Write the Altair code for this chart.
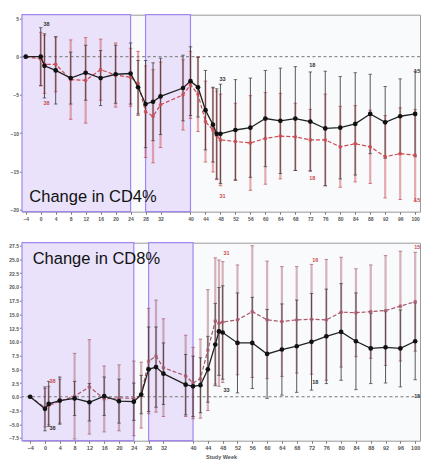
import altair as alt
import pandas as pd

# ---------------- data ----------------
weeks = [-4, 0, 1, 4, 8, 12, 16, 20, 24, 26, 28, 30, 32, 38, 40, 42, 44, 46, 47, 48,
         52, 56, 60, 64, 68, 72, 76, 80, 84, 88, 92, 96, 100]

cd4_black_mean = [0, 0, -1.2, -1.8, -2.8, -2.1, -2.8, -2.3, -2.2, -4.0, -6.2, -5.9, -5.2, -4.1, -3.2, -4.0,
                  -7.0, -8.9, -10.1, -10.1, -9.6, -9.3, -8.1, -8.4, -8.1, -8.5, -9.4, -9.3, -8.8, -7.5, -8.6, -7.8, -7.5]
cd4_black_sd = [0, 3.8, 4.2, 4.4, 3.4, 3.6, 3.6, 3.8, 4.0, 3.5, 5.7, 5.1, 5.0, 4.3, 4.5, 3.9,
                5.2, 4.9, 5.9, 6.5, 6.6, 6.5, 6.3, 6.9, 6.8, 6.5, 7.5, 6.7, 6.7, 5.2, 4.7, 4.9, 5.6]
cd4_red_mean = [0, -0.3, -1.0, -1.0, -3.0, -3.1, -1.7, -2.4, -2.7, -3.5, -7.2, -7.8, -6.3, -5.0, -3.7, -4.9,
                -8.5, -9.6, -10.3, -10.9, -11.1, -11.3, -10.7, -10.4, -10.5, -10.9, -10.9, -11.8, -11.4, -11.8, -13.1, -12.7, -12.9]
cd4_red_sd = [0, 3.5, 3.8, 3.6, 5.2, 5.6, 4.0, 4.2, 3.8, 4.2, 6.0, 6.1, 5.6, 4.6, 4.4, 4.9,
              5.3, 5.5, 5.8, 6.0, 5.0, 6.2, 6.0, 5.6, 4.4, 4.0, 6.0, 5.3, 5.0, 4.8, 5.4, 6.0, 6.0]

cd8_black_mean = [0, -2.2, -1.3, -0.7, -0.3, -1.0, 0.1, -0.8, -0.9, 0.4, 5.0, 5.4, 4.2, 2.2, 1.9, 2.1,
                  5.0, 9.5, 11.9, 11.7, 9.8, 9.8, 7.8, 8.6, 9.2, 10.0, 11.0, 11.8, 10.1, 8.8, 9.0, 8.8, 10.1]
cd8_black_sd = [0, 4.0, 4.1, 4.3, 3.1, 3.4, 3.5, 4.0, 3.4, 3.5, 7.7, 7.3, 5.6, 5.5, 5.5, 5.0,
                6.0, 7.5, 8.0, 8.5, 9.1, 8.3, 8.1, 8.3, 8.4, 8.8, 8.6, 8.8, 8.8, 6.4, 6.5, 7.0, 7.0]
cd8_red_mean = [0, -2.0, -1.6, -0.8, 0.1, 1.8, -0.4, -0.2, -0.3, 0.3, 6.5, 7.4, 5.3, 3.8, 2.5, 3.3,
                8.5, 13.8, 13.4, 13.6, 14.0, 15.5, 14.0, 13.7, 14.0, 14.1, 14.0, 15.4, 15.3, 15.5, 15.7, 16.5, 17.3]
cd8_red_sd = [0, 3.5, 3.5, 4.0, 7.8, 8.6, 6.0, 6.0, 6.8, 6.0, 9.6, 10.2, 8.9, 7.4, 6.5, 7.2,
              11.0, 11.5, 11.5, 11.0, 10.0, 12.0, 10.7, 10.0, 9.7, 10.0, 11.0, 10.0, 8.0, 8.5, 10.0, 10.0, 9.0]

# subject-count annotations
cd4_label_text = ["38", "38", "33", "31", "18", "18", "15", "15"]
cd4_label_week = [1, 1, 48, 48, 72, 72, 100, 100]
cd4_label_value = [4.3, -6.0, -2.9, -18.2, -1.1, -15.9, -1.9, -18.8]
cd4_label_grp = ["black", "red", "black", "red", "black", "red", "black", "red"]

cd8_label_text = ["38", "38", "31", "33", "16", "18", "15", "15"]
cd8_label_week = [1.5, 1.5, 48.5, 48.5, 72.5, 72.5, 100, 100]
cd8_label_value = [2.8, -5.6, 26.1, 1.2, 24.9, 2.7, 0.1, 27.3]
cd8_label_grp = ["red", "black", "red", "black", "red", "black", "black", "red"]

region_start_cd4 = [-5.0, 28]
region_start_cd8 = [-6.2, 28]
region_end = [24, 40]

x_tick_values = [-4, 0, 4, 8, 12, 16, 20, 24, 28, 32, 40, 44, 48, 52, 56, 60, 64, 68,
                 72, 76, 80, 84, 88, 92, 96, 100]
cd4_y_ticks = [-20, -15, -10, -5, 0, 5]
cd8_y_ticks = [-7.5, -5.0, -2.5, 0.0, 2.5, 5.0, 7.5, 10.0, 12.5, 15.0, 17.5, 20.0, 22.5, 25.0, 27.5]


def series_df(mb, sb, mr, sr):
    rows = []
    for w, m, s in zip(weeks, mb, sb):
        rows.append({"week": w, "grp": "black", "mean": m, "sd": s})
    for w, m, s in zip(weeks, mr, sr):
        rows.append({"week": w, "grp": "red", "mean": m, "sd": s})
    return pd.DataFrame(rows)


def panel(df, lab_df, reg_df, xdom, ydom, yticks, yfmt, red, title_text, tx, ty,
          W, H, bottom):
    xs = alt.Scale(domain=xdom, nice=False, zero=False)
    ys = alt.Scale(domain=ydom, nice=False, zero=False)
    xaxis = alt.Axis(values=x_tick_values, title="Study Week" if bottom else None,
                     labelFontSize=5.5 if bottom else 5, labelFontWeight="bold",
                     labelColor="#555", tickColor="#777", tickSize=2.5, domain=False,
                     grid=False, labelPadding=2, labelFlush=False,
                     titleFontSize=5.5, titleFontWeight="bold", titleColor="#555",
                     titlePadding=4, titleAnchor="middle")
    yaxis = alt.Axis(values=yticks, format=yfmt, title=None, labelFontSize=5,
                     labelFontWeight="bold", labelColor="#555", tickColor="#777",
                     tickSize=2.5, domain=False, grid=False, labelPadding=1)

    def X(f):
        return alt.X(f, scale=xs, axis=xaxis)

    def Y(f):
        return alt.Y(f, scale=ys, axis=yaxis)

    regions = alt.Chart(reg_df).mark_rect(
        fill="#e9e2fa", stroke="#a287ef", strokeWidth=1.2
    ).encode(x=X("x0:Q"), x2="x1:Q", y=alt.value(0), y2=alt.value(H))

    zero = alt.Chart(reg_df).transform_filter("datum.x1 == 24").transform_calculate(
        zero_line="0").mark_rule(
        color="#777", strokeDash=[3, 2.5], strokeWidth=1
    ).encode(y=Y("zero_line:Q"))

    bars_src = alt.Chart(df).transform_filter("datum.sd > 0").transform_calculate(
        lo="datum.mean - datum.sd", hi="datum.mean + datum.sd")
    red_src = bars_src.transform_filter("datum.grp == 'red'")
    blk_src = bars_src.transform_filter("datum.grp == 'black'")

    red_bars = red_src.mark_rule(color=red, strokeWidth=2.2, opacity=0.45).encode(
        x=X("week:Q"), y=Y("lo:Q"), y2="hi:Q")
    red_caps_hi = red_src.mark_tick(color=red, orient="horizontal", size=3.5, thickness=1,
                                    opacity=0.7).encode(x=X("week:Q"), y=Y("hi:Q"))
    red_caps_lo = red_src.mark_tick(color=red, orient="horizontal", size=3.5, thickness=1,
                                    opacity=0.7).encode(x=X("week:Q"), y=Y("lo:Q"))

    blk_bars = blk_src.mark_rule(color="#3a3a3a", strokeWidth=1, opacity=0.85).encode(
        x=X("week:Q"), y=Y("lo:Q"), y2="hi:Q")
    blk_caps_hi = blk_src.mark_tick(color="#3a3a3a", orient="horizontal", size=3.5,
                                    thickness=1).encode(x=X("week:Q"), y=Y("hi:Q"))
    blk_caps_lo = blk_src.mark_tick(color="#3a3a3a", orient="horizontal", size=3.5,
                                    thickness=1).encode(x=X("week:Q"), y=Y("lo:Q"))

    red_df = alt.Chart(df).transform_filter("datum.grp == 'red'")
    blk_df = alt.Chart(df).transform_filter("datum.grp == 'black'")
    red_line = red_df.mark_line(color=red, strokeDash=[4, 2], strokeWidth=1.2).encode(
        x=X("week:Q"), y=Y("mean:Q"))
    red_pts = red_df.mark_point(filled=True, color=red, size=14, opacity=0.8).encode(
        x=X("week:Q"), y=Y("mean:Q"))
    blk_line = blk_df.mark_line(color="#222", strokeWidth=1.3).encode(
        x=X("week:Q"), y=Y("mean:Q"))
    blk_pts = blk_df.mark_point(filled=True, color="#111", size=22, opacity=1).encode(
        x=X("week:Q"), y=Y("mean:Q"))

    labels = alt.Chart(lab_df).mark_text(
        fontSize=5.5, fontWeight="bold", dx=2, font="Liberation Sans"
    ).encode(
        x=X("week:Q"), y=Y("value:Q"), text="text:N",
        color=alt.Color("grp:N", scale=alt.Scale(domain=["black", "red"], range=["#333", red]),
                        legend=None),
    )

    title = alt.Chart(reg_df).transform_filter("datum.x1 == 24").mark_text(
        fontSize=16.5, font="Liberation Sans", align="left", baseline="alphabetic", color="#111"
    ).encode(x=alt.value(tx), y=alt.value(ty), text=alt.value(title_text))

    return alt.layer(
        regions, zero, red_bars, red_caps_hi, red_caps_lo, blk_bars, blk_caps_hi, blk_caps_lo,
        red_line, red_pts, blk_line, blk_pts, labels, title
    ).properties(width=W, height=H)


cd4_df = series_df(cd4_black_mean, cd4_black_sd, cd4_red_mean, cd4_red_sd)
cd8_df = series_df(cd8_black_mean, cd8_black_sd, cd8_red_mean, cd8_red_sd)
cd4_lab = pd.DataFrame({"text": cd4_label_text, "week": cd4_label_week,
                        "value": cd4_label_value, "grp": cd4_label_grp})
cd8_lab = pd.DataFrame({"text": cd8_label_text, "week": cd8_label_week,
                        "value": cd8_label_value, "grp": cd8_label_grp})
cd4_reg = pd.DataFrame({"x0": region_start_cd4, "x1": region_end})
cd8_reg = pd.DataFrame({"x0": region_start_cd8, "x1": region_end})

W = 398
top = panel(cd4_df, cd4_lab, cd4_reg, [-5.0, 101.3], [-20.3, 5.5], cd4_y_ticks, "d",
            "#cc4a50", "Change in CD4%", 7.3, 187, W, 197, False)
bottom = panel(cd8_df, cd8_lab, cd8_reg, [-6.2, 101.3], [-8.0, 28.05], cd8_y_ticks, ".1f",
               "#a8586a", "Change in CD8%", 10.7, 21, W, 198, True)

chart = alt.vconcat(top, bottom, spacing=19).properties(
    padding={"left": 0, "top": 4.7, "right": 0, "bottom": 0}
).configure_view(stroke="#9a9a9a", fill="#f9fafc", strokeWidth=1)

chart.save("out.html", embed_options={"renderer": "svg", "actions": False})
